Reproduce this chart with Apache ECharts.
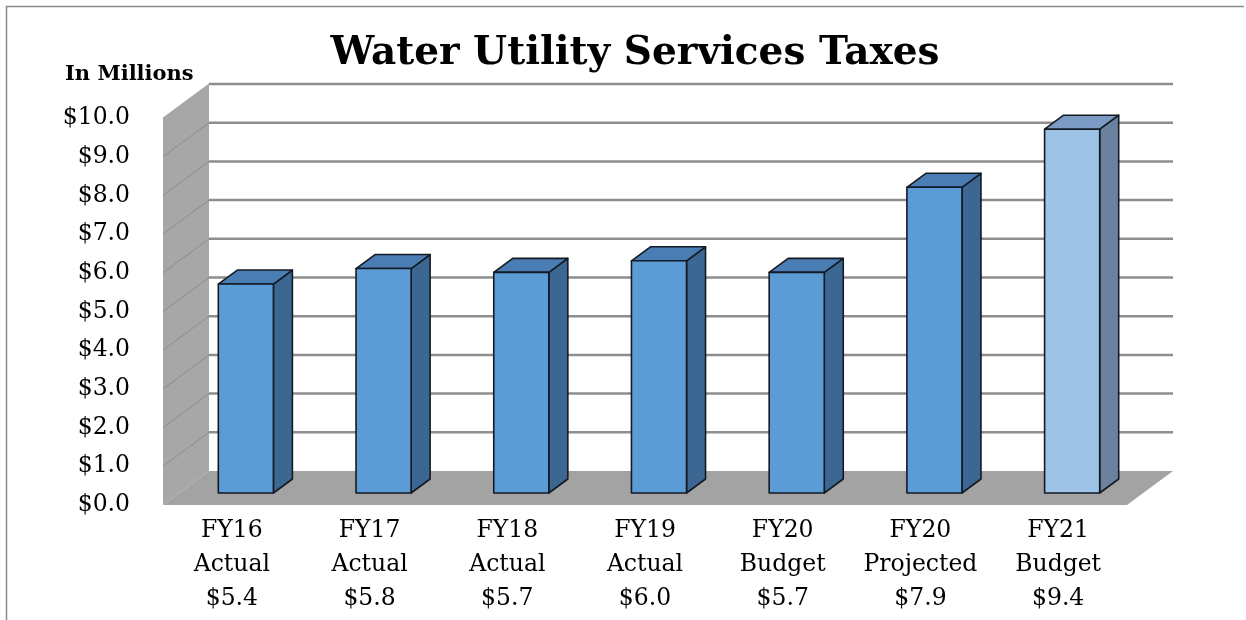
<!DOCTYPE html>
<html>
<head>
<meta charset="utf-8">
<title>Water Utility Services Taxes</title>
<script src="https://cdn.jsdelivr.net/npm/echarts@6/dist/echarts.min.js"></script>
<style>
  html, body { margin: 0; padding: 0; background: #fff; }
  #chart { width: 1246px; height: 620px; }
</style>
</head>
<body>
<div id="chart"></div>
<script>
// Fiscal years, their stage and the tax revenue in millions of dollars
const years = ['FY16', 'FY17', 'FY18', 'FY19', 'FY20', 'FY20', 'FY21'];
const stages = ['Actual', 'Actual', 'Actual', 'Actual', 'Budget', 'Projected', 'Budget'];
const taxes = [5.4, 5.8, 5.7, 6.0, 5.7, 7.9, 9.4];
const yTickValues = [0, 1, 2, 3, 4, 5, 6, 7, 8, 9, 10];

// Pseudo-3D geometry (pixels)
const WALL_DX = 46, WALL_DY = -34;     // depth of the side wall / floor
const BAR_DX0 = 14, BAR_DY0 = -12;     // bar front face offset from the front plane
const BAR_DX = 19, BAR_DY = -14;       // bar depth
const BAR_RATIO = 0.4;                 // bar width relative to category band
const FONT = "'DejaVu Serif', 'Liberation Serif', serif";

// The last year is the proposed budget and is drawn in a lighter shade
const highlightIndex = 6;
const barColors = {
  normal: { front: '#5b9bd6', side: '#3c6793', top: '#4a7db4' },
  light:  { front: '#9dc3e6', side: '#6a829f', top: '#7b9ac4' }
};
const EDGE = '#151a22';

const categories = years.map((y, i) => y + '\n' + stages[i]);

const chart = echarts.init(document.getElementById('chart'), null, { renderer: 'canvas' });

function renderBackdrop(params, api) {
  const cs = params.coordSys;
  const x = cs.x, y = cs.y, w = cs.width, h = cs.height;
  return {
    type: 'group',
    children: [
      { // side wall
        type: 'polygon',
        shape: { points: [[x, y], [x + WALL_DX, y + WALL_DY], [x + WALL_DX, y + h + WALL_DY], [x, y + h]] },
        style: { fill: '#a7a7a7' }
      },
      { // floor
        type: 'polygon',
        shape: { points: [[x, y + h], [x + w, y + h], [x + w + WALL_DX, y + h + WALL_DY], [x + WALL_DX, y + h + WALL_DY]] },
        style: { fill: '#a3a3a3' }
      }
    ]
  };
}

function renderGridLine(params, api) {
  const v = api.value(0);
  if (v === 0) return null;
  const cs = params.coordSys;
  const yF = api.coord([0, v])[1];
  return {
    type: 'group',
    children: [
      { // back wall gridline
        type: 'line',
        shape: { x1: cs.x + WALL_DX, y1: yF + WALL_DY, x2: cs.x + cs.width + WALL_DX, y2: yF + WALL_DY },
        style: { stroke: '#8e8e8e', lineWidth: 2.5 }
      },
      { // side wall gridline
        type: 'line',
        shape: { x1: cs.x, y1: yF, x2: cs.x + WALL_DX, y2: yF + WALL_DY },
        style: { stroke: v === 10 ? '#a7a7a7' : '#8c8c8c', lineWidth: 1 }
      }
    ]
  };
}

function renderBar(params, api) {
  const i = api.value(0), v = api.value(1);
  const base = api.coord([i, 0]);
  const top = api.coord([i, v]);
  const hw = api.size([1, 0])[0] * BAR_RATIO / 2;
  const x0 = base[0] + BAR_DX0 - hw, x1 = base[0] + BAR_DX0 + hw;
  const yb = base[1] + BAR_DY0, yt = top[1] + BAR_DY0;
  const c = i === highlightIndex ? barColors.light : barColors.normal;
  const edge = { stroke: EDGE, lineWidth: 1.6, lineJoin: 'round' };
  return {
    type: 'group',
    children: [
      {
        type: 'polygon',
        shape: { points: [[x1, yb], [x1 + BAR_DX, yb + BAR_DY], [x1 + BAR_DX, yt + BAR_DY], [x1, yt]] },
        style: Object.assign({ fill: c.side }, edge)
      },
      {
        type: 'polygon',
        shape: { points: [[x0, yt], [x1, yt], [x1 + BAR_DX, yt + BAR_DY], [x0 + BAR_DX, yt + BAR_DY]] },
        style: Object.assign({ fill: c.top }, edge)
      },
      {
        type: 'rect',
        shape: { x: x0, y: yt, width: x1 - x0, height: yb - yt },
        style: Object.assign({ fill: c.front }, edge)
      }
    ]
  };
}

const option = {
  backgroundColor: '#ffffff',
  animation: false,
  title: {
    text: 'Water Utility Services Taxes',
    left: 630,
    top: 29,
    textAlign: 'center',
    textStyle: { fontFamily: FONT, fontWeight: 'bold', fontSize: 39, color: '#000' }
  },
  graphic: [
    { type: 'line', shape: { x1: 6, y1: 6.5, x2: 1244, y2: 6.5 }, style: { stroke: '#8a8a8a', lineWidth: 1.5 } },
    { type: 'line', shape: { x1: 6.5, y1: 6, x2: 6.5, y2: 620 }, style: { stroke: '#8a8a8a', lineWidth: 1.5 } },
    {
      type: 'text', left: 65, top: 64,
      style: { text: 'In Millions', font: "bold 21px " + FONT, fill: '#000' }
    }
  ],
  grid: { left: 163, right: 119, top: 118, bottom: 115 },
  xAxis: {
    type: 'category',
    data: categories,
    axisLine: { show: false },
    axisTick: { show: false },
    splitLine: { show: false },
    axisLabel: {
      interval: 0,
      margin: 9,
      fontFamily: FONT,
      fontSize: 23.5,
      lineHeight: 34,
      color: '#000',
      formatter: (val, idx) => val + '\n$' + taxes[idx].toFixed(1)
    }
  },
  yAxis: {
    type: 'value',
    min: 0,
    max: 10,
    interval: 1,
    axisLine: { show: false },
    axisTick: { show: false },
    splitLine: { show: false },
    axisLabel: {
      margin: 33,
      fontFamily: FONT,
      fontSize: 23.5,
      color: '#000',
      formatter: v => '$' + v.toFixed(1)
    }
  },
  series: [
    { type: 'custom', name: 'backdrop', renderItem: renderBackdrop, data: [[0]], z: 1, silent: true },
    { type: 'custom', name: 'gridlines', renderItem: renderGridLine, data: yTickValues.map(v => [v]), encode: { x: -1, y: 0 }, z: 2, silent: true },
    { type: 'custom', name: 'Taxes', renderItem: renderBar, data: taxes.map((v, i) => [i, v]), encode: { x: 0, y: 1 }, z: 3 }
  ]
};

chart.setOption(option);
</script>
</body>
</html>
